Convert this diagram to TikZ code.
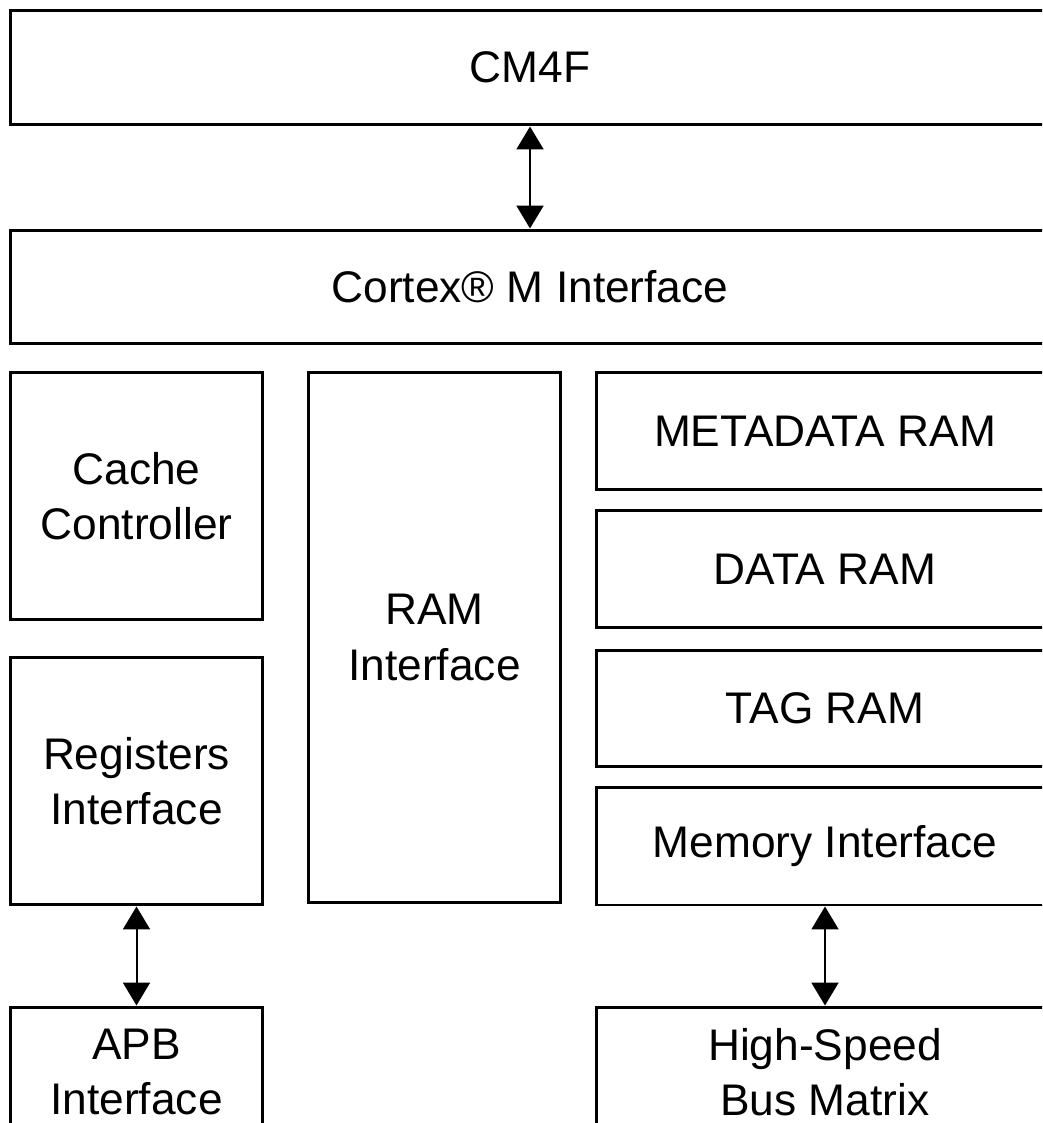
\documentclass[tikz,border=0pt]{standalone}
\usepackage{fontspec}
\setmainfont{Liberation Sans}
\usetikzlibrary{arrows.meta}
\tikzset{
  blk/.style={draw, line width=0.06cm, align=center, inner sep=0pt,
    font=\fontsize{25.2}{31.5}\selectfont},
  link/.style={line width=0.04cm, {Triangle[width=0.54cm,length=0.46cm]}-{Triangle[width=0.54cm,length=0.46cm]}}
}
\begin{document}
\begin{tikzpicture}[x=0.02cm,y=-0.02cm]
    \useasboundingbox (0,0) rectangle (1042,1123);
    \fill[white] (0,0) rectangle (1042,1123);
    \clip (0,0) rectangle (1042,1123);
    \node[blk, minimum width=20.8cm, minimum height=2.3cm] (cm4f) at (530,67.5) {CM4F};
    \node[blk, minimum width=20.8cm, minimum height=2.28cm] (cortex) at (530,287) {Cortex® M Interface};
    \node[blk, minimum width=5.06cm, minimum height=4.96cm] (cache) at (136.5,496) {Cache\\Controller};
    \node[blk, minimum width=5.06cm, minimum height=4.96cm] (regs) at (136.5,781) {Registers\\Interface};
    \node[blk, minimum width=5.06cm, minimum height=10.62cm] (ramif) at (434.5,637.5) {RAM\\Interface};
    \node[blk, minimum width=9.16cm, minimum height=2.36cm] (meta) at (825,431) {METADATA RAM};
    \node[blk, minimum width=9.16cm, minimum height=2.36cm] (data) at (825,569) {DATA RAM};
    \node[blk, minimum width=9.16cm, minimum height=2.34cm] (tag) at (825,708.5) {TAG RAM};
    \node[blk, minimum width=9.16cm, minimum height=2.36cm] (memif) at (825,846) {Memory Interface};
    \node[blk, minimum width=5.06cm, minimum height=2.6cm] (apb) at (136.5,1072) {APB\\Interface};
    \node[blk, minimum width=9.16cm, minimum height=2.6cm] (hsbm) at (825,1072) {High-Speed\\Bus Matrix};
    \draw[link] (cm4f) -- (cortex);
    \draw[link] (regs) -- (apb);
    \draw[link] (memif) -- (hsbm);
  \end{tikzpicture}
\end{document}
